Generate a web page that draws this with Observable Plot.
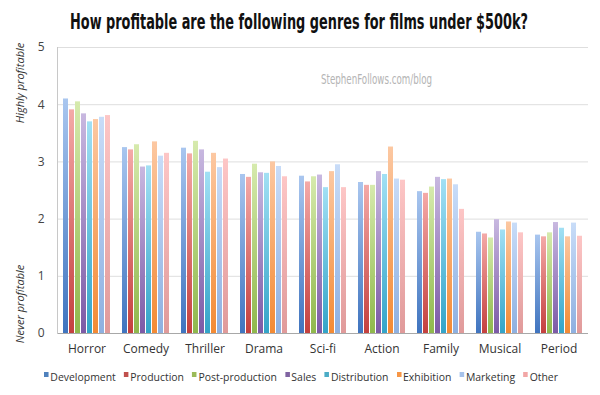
<!DOCTYPE html>
<html>
<head>
<meta charset="utf-8">
<script src="https://cdn.jsdelivr.net/npm/d3@7"></script>
<script src="https://cdn.jsdelivr.net/npm/@observablehq/plot@0.6"></script>
<style>
  body { margin: 0; background: #fff; width: 600px; height: 395px; overflow: hidden; position: relative; font-family: "Open Sans", "Noto Sans", sans-serif; }
  #title { position: absolute; left: 70px; top: 9px; font-family: "Liberation Sans Narrow", "DejaVu Sans Condensed", sans-serif; font-weight: bold; font-size: 21px; line-height: 26px; color: #111; white-space: nowrap; transform-origin: 0 0; }
  #chart { position: absolute; left: 0; top: 30px; }
  .side { position: absolute; font-style: italic; font-size: 11px; color: #333; white-space: nowrap; transform: translate(-50%, -50%) rotate(-90deg); }
  #wm { position: absolute; left: 321px; top: 70px; font-family: "Liberation Sans Narrow", "DejaVu Sans Condensed", sans-serif; font-size: 14px; line-height: 18px; color: #b4b4b4; white-space: nowrap; transform-origin: 0 0; }
  #legend { position: absolute; left: 44px; top: 369px; display: flex; font-size: 11.5px; line-height: 16px; color: #333; white-space: nowrap; transform-origin: 0 0; }
  #legend span.item { margin-right: 9px; display: inline-flex; align-items: flex-start; }
  #legend span.item:last-child { margin-right: 0; }
  #legend span.sw { display: inline-block; width: 5px; height: 5px; margin-right: 2px; margin-top: 3px; }
</style>
</head>
<body>
<div id="title">How profitable are the following genres for films under $500k?</div>
<div id="wm">StephenFollows.com/blog</div>
<div class="side" style="left:19px; top:83px;">Highly profitable</div>
<div class="side" style="left:19px; top:304px;">Never profitable</div>
<div id="chart"></div>
<div id="legend"></div>
<svg width="0" height="0" style="position:absolute">
  <defs id="gdefs"></defs>
</svg>
<script>
const genres = ["Horror", "Comedy", "Thriller", "Drama", "Sci-fi", "Action", "Family", "Musical", "Period"];
const series = ["Development", "Production", "Post-production", "Sales", "Distribution", "Exhibition", "Marketing", "Other"];

const development    = [4.10, 3.25, 3.24, 2.78, 2.75, 2.64, 2.48, 1.77, 1.72];
const production     = [3.91, 3.21, 3.14, 2.73, 2.65, 2.59, 2.45, 1.74, 1.69];
const postProduction = [4.05, 3.30, 3.36, 2.96, 2.74, 2.59, 2.56, 1.67, 1.76];
const sales          = [3.84, 2.91, 3.21, 2.81, 2.77, 2.83, 2.73, 1.99, 1.94];
const distribution   = [3.70, 2.93, 2.82, 2.80, 2.55, 2.78, 2.69, 1.81, 1.84];
const exhibition     = [3.74, 3.35, 3.15, 3.00, 2.83, 3.26, 2.70, 1.95, 1.69];
const marketing      = [3.78, 3.10, 2.90, 2.92, 2.95, 2.70, 2.60, 1.93, 1.93];
const other          = [3.81, 3.15, 3.05, 2.74, 2.55, 2.68, 2.17, 1.76, 1.70];

const yTicks = [0, 1, 2, 3, 4, 5];

const seriesValues = [development, production, postProduction, sales, distribution, exhibition, marketing, other];
const topColors    = ["#a9c6ef", "#f4aaa8", "#d6eaad", "#c8b8e0", "#a2e0f4", "#fcc8a2", "#c8dcf8", "#fdc6c6"];
const bottomColors = ["#3f74bf", "#c4403e", "#8fb84c", "#7c5aa6", "#33a4c8", "#f38a34", "#8eb0e0", "#e09a9a"];
const swatchColors = ["#4f81bd", "#c0504d", "#9bbb59", "#8064a2", "#4bacc6", "#f79646", "#a6c2ea", "#f2a7a6"];

// gradients
const defs = d3.select("#gdefs");
series.forEach((s, i) => {
  const g = defs.append("linearGradient").attr("id", "g" + i).attr("x1", 0).attr("y1", 0).attr("x2", 0).attr("y2", 1);
  g.append("stop").attr("offset", "0%").attr("stop-color", topColors[i]);
  g.append("stop").attr("offset", "100%").attr("stop-color", bottomColors[i]);
});

const data = [];
genres.forEach((g, gi) => {
  series.forEach((s, si) => {
    data.push({genre: g, series: s, value: seriesValues[si][gi]});
  });
});

const chart = Plot.plot({
  width: 600,
  height: 330,
  marginLeft: 57,
  marginRight: 12,
  marginTop: 17,
  marginBottom: 27,
  style: {fontFamily: "'Open Sans', 'Noto Sans', sans-serif", fontSize: "12px", color: "#333", background: "transparent"},
  fx: {domain: genres, padding: 0, axis: null, label: null},
  x: {domain: series, paddingInner: 0.14, paddingOuter: 0.29, axis: null, label: null},
  y: {domain: [0, 5], axis: null, label: null},
  color: {domain: series, range: series.map((s, i) => `url(#g${i})`)},
  marks: [
    Plot.ruleY(yTicks.filter(d => d > 0), {stroke: "#dedede", strokeWidth: 1}),
    Plot.barY(data, {fx: "genre", x: "series", y: "value", fill: "series"}),
    Plot.ruleY([0], {stroke: "#a8a8a8", strokeWidth: 1}),
    Plot.frame({anchor: "left", facet: "super", stroke: "#c8c8c8"}),
    Plot.axisY(yTicks, {tickSize: 0, tickPadding: 13, fontSize: 12, fill: "#444", tickFormat: d3.format("d"), label: null}),
    Plot.axisFx({anchor: "bottom", tickSize: 0, tickPadding: 11, fontSize: 12, fill: "#333", label: null})
  ]
});
document.getElementById("chart").appendChild(chart);

// legend
const legend = d3.select("#legend");
series.forEach((s, i) => {
  const item = legend.append("span").attr("class", "item");
  item.append("span").attr("class", "sw").style("background", swatchColors[i]);
  item.append("span").text(s);
});

// fit text blocks horizontally to the reference's widths
function fitWidth(el, target) {
  const w = el.getBoundingClientRect().width;
  if (w > 0) el.style.transform = `scaleX(${target / w})`;
}
fitWidth(document.getElementById("title"), 458);
fitWidth(document.getElementById("wm"), 111);
fitWidth(document.getElementById("legend"), 514);
</script>
</body>
</html>
